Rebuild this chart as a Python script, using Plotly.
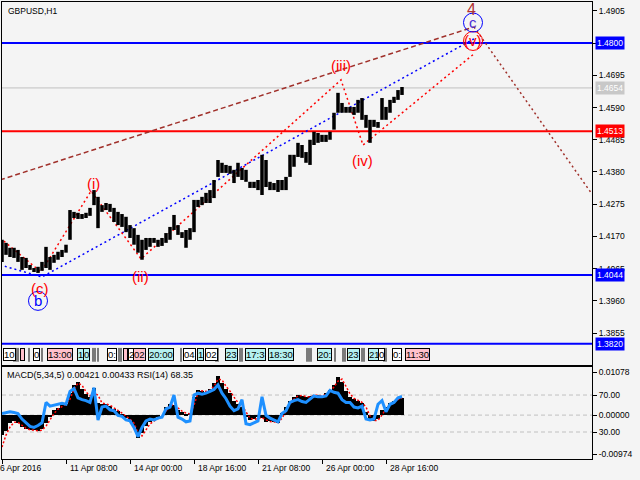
import plotly.graph_objects as go

# --- precio GBPUSD H1 (cada 4 velas: máximo / mínimo) ---
BAR_STEP = 4
HIGH = [
    1.4159, 1.4149, 1.4133, 1.4133, 1.4126, 1.4103, 1.4100, 1.4077, 1.4067, 1.4071,
    1.4087, 1.4136, 1.4103, 1.4110, 1.4120, 1.4126, 1.4143, 1.4256, 1.4250, 1.4247,
    1.4243, 1.4247, 1.4263, 1.4321, 1.4299, 1.4272, 1.4279, 1.4276, 1.4263, 1.4250,
    1.4243, 1.4234, 1.4207, 1.4197, 1.4175, 1.4159, 1.4165, 1.4165, 1.4165, 1.4159,
    1.4165, 1.4181, 1.4201, 1.4240, 1.4207, 1.4184, 1.4191, 1.4197, 1.4289, 1.4289,
    1.4299, 1.4312, 1.4321, 1.4354, 1.4419, 1.4410, 1.4403, 1.4400, 1.4387, 1.4410,
    1.4393, 1.4387, 1.4348, 1.4348, 1.4354, 1.4436, 1.4419, 1.4348, 1.4344, 1.4354,
    1.4354, 1.4364, 1.4436, 1.4436, 1.4475, 1.4468, 1.4445, 1.4485, 1.4511, 1.4507,
    1.4501, 1.4501, 1.4511, 1.4573, 1.4638, 1.4605, 1.4592, 1.4592, 1.4592, 1.4615,
    1.4621, 1.4566, 1.4550, 1.4550, 1.4543, 1.4621, 1.4592, 1.4615, 1.4625, 1.4647,
    1.4657,
]
LOW = [
    1.4087, 1.4110, 1.4103, 1.4100, 1.4087, 1.4061, 1.4067, 1.4061, 1.4054, 1.4051,
    1.4058, 1.4067, 1.4061, 1.4084, 1.4094, 1.4103, 1.4117, 1.4159, 1.4230, 1.4227,
    1.4227, 1.4230, 1.4237, 1.4272, 1.4197, 1.4250, 1.4256, 1.4250, 1.4217, 1.4207,
    1.4201, 1.4184, 1.4165, 1.4143, 1.4117, 1.4094, 1.4126, 1.4136, 1.4149, 1.4136,
    1.4139, 1.4149, 1.4159, 1.4191, 1.4175, 1.4165, 1.4133, 1.4159, 1.4184, 1.4266,
    1.4272, 1.4279, 1.4279, 1.4295, 1.4364, 1.4377, 1.4377, 1.4374, 1.4344, 1.4364,
    1.4354, 1.4348, 1.4328, 1.4328, 1.4321, 1.4305, 1.4331, 1.4321, 1.4321, 1.4315,
    1.4321, 1.4321, 1.4364, 1.4397, 1.4429, 1.4426, 1.4410, 1.4403, 1.4468, 1.4475,
    1.4478, 1.4478, 1.4485, 1.4518, 1.4573, 1.4573, 1.4573, 1.4573, 1.4566, 1.4573,
    1.4550, 1.4524, 1.4475, 1.4527, 1.4524, 1.4550, 1.4550, 1.4573, 1.4605, 1.4615,
    1.4631,
]

# --- indicadores ---
MACD = [
    -0.0050, -0.0040, -0.0020, -0.0015, -0.0020, -0.0030, -0.0035, -0.0038, -0.0038, -0.0040,
    -0.0036, -0.0020, -0.0005, 0.0012, 0.0018, 0.0025, 0.0028, 0.0055, 0.0075, 0.0083,
    0.0065, 0.0052, 0.0045, 0.0068, 0.0030, 0.0027, 0.0028, 0.0022, 0.0015, 0.0010,
    0.0002, -0.0008, -0.0012, -0.0030, -0.0058, -0.0045, -0.0028, -0.0018, -0.0012, -0.0006,
    0.0000, 0.0020, 0.0027, 0.0025, 0.0012, 0.0008, 0.0002, 0.0005, 0.0045, 0.0062,
    0.0060, 0.0058, 0.0065, 0.0080, 0.0097, 0.0080, 0.0065, 0.0055, 0.0035, 0.0028,
    0.0020, -0.0005, -0.0012, -0.0010, -0.0005, -0.0008, -0.0017, -0.0015, -0.0018, -0.0020,
    0.0005, 0.0020, 0.0035, 0.0045, 0.0050, 0.0048, 0.0045, 0.0048, 0.0050, 0.0049,
    0.0047, 0.0055, 0.0064, 0.0075, 0.0096, 0.0082, 0.0060, 0.0045, 0.0040, 0.0035,
    0.0030, 0.0008, -0.0012, -0.0015, -0.0010, 0.0012, 0.0020, 0.0030, 0.0035, 0.0042,
    0.0042,
]
SIGNAL = [
    -0.0080, -0.0050, -0.0030, -0.0018, -0.0018, -0.0026, -0.0033, -0.0037, -0.0038, -0.0039,
    -0.0038, -0.0028, -0.0012, 0.0004, 0.0015, 0.0022, 0.0027, 0.0040, 0.0065, 0.0080,
    0.0075, 0.0058, 0.0048, 0.0055, 0.0050, 0.0030, 0.0028, 0.0025, 0.0018, 0.0012,
    0.0005, -0.0003, -0.0010, -0.0020, -0.0045, -0.0052, -0.0036, -0.0022, -0.0015, -0.0009,
    -0.0003, 0.0010, 0.0024, 0.0026, 0.0018, 0.0010, 0.0005, 0.0003, 0.0025, 0.0055,
    0.0061, 0.0059, 0.0062, 0.0072, 0.0090, 0.0088, 0.0072, 0.0060, 0.0045, 0.0031,
    0.0024, 0.0008, -0.0008, -0.0011, -0.0008, -0.0006, -0.0012, -0.0016, -0.0017, -0.0019,
    -0.0008, 0.0012, 0.0028, 0.0040, 0.0048, 0.0049, 0.0046, 0.0046, 0.0049, 0.0050,
    0.0048, 0.0051, 0.0060, 0.0070, 0.0085, 0.0090, 0.0072, 0.0053, 0.0042, 0.0037,
    0.0032, 0.0020, -0.0002, -0.0014, -0.0013, 0.0000, 0.0016, 0.0025, 0.0033, 0.0039,
    0.0043,
]
RSI = [
    50, 51, 52, 51, 50, 44, 40, 36, 35, 37,
    40, 62, 58, 59, 60, 61, 60, 74, 77, 67,
    65, 64, 62, 78, 43, 57, 58, 54, 53, 48,
    47, 43, 42, 35, 25, 35, 42, 44, 43, 45,
    46, 55, 57, 70, 46, 44, 41, 42, 70, 72,
    71, 72, 74, 76, 81, 72, 66, 58, 53, 55,
    65, 39, 38, 40, 42, 68, 48, 45, 43, 41,
    50, 53, 62, 64, 65, 63, 62, 66, 69, 68,
    68, 69, 75, 73, 72, 65, 62, 62, 57, 56,
    58, 44, 43, 44, 60, 64, 52, 60, 62, 67,
    68.35,
]
BARS = [i * BAR_STEP for i in range(len(HIGH))]

# --- eje de precios y niveles horizontales ---
PRICE_TICKS = [1.4905, 1.4800, 1.4695, 1.4590, 1.4485, 1.4380,
               1.4275, 1.4170, 1.4065, 1.3960, 1.3855]
LEVELS = [1.4800, 1.4654, 1.4513, 1.4044, 1.3820]
LEVEL_COLORS = ["#0000ff", "#c0c0c0", "#ff0000", "#0000ff", "#0000ff"]
LEVEL_WIDTHS = [2, 1, 2, 2, 2]

# --- conteo de ondas (índice de barra, precio) ---
MINOR_X = [-2, 39, 89, 139, 339, 361, 472]
MINOR_Y = [1.4165, 1.4054, 1.4318, 1.4097, 1.4680, 1.4468, 1.4765]
BC_X = [-2, 40, 472]
BC_Y = [1.4077, 1.4038, 1.4814]
W4_X = [-2, 472]
W4_Y = [1.4354, 1.4853]
W5_X = [472, 590]
W5_Y = [1.4853, 1.4308]

LABEL_TEXT = ["(i)", "(ii)", "(iii)", "(iv)", "(v)", "(c)", "c", "b", "4"]
LABEL_X = [91, 138, 339, 360, 471, 38, 471, 36, 469]
LABEL_Y = [1.4341, 1.4038, 1.4726, 1.4419, 1.4807, 1.4001, 1.4867, 1.3960, 1.4911]
LABEL_COLORS = ["#ff0000"] * 6 + ["#4b2fd6", "#0000ff", "#b03030"]
CIRCLE_X = [471, 471, 36]
CIRCLE_Y = [1.4807, 1.4867, 1.3960]
CIRCLE_COLORS = ["#ff0000", "#0000ff", "#0000ff"]

# --- eje de tiempo ---
XTICK_BARS = [0, 64, 128, 192, 256, 320, 384]
XTICK_TEXT = ["6 Apr 2016", "11 Apr 08:00", "14 Apr 00:00", "18 Apr 16:00",
              "21 Apr 08:00", "26 Apr 00:00", "28 Apr 16:00"]

# --- etiquetas de sesión (franja inferior) ---
TAG_BARS = [1, 18, 31, 45, 75, 81, 105, 121, 126, 131, 146, 181, 195, 203,
            223, 243, 266, 315, 345, 366, 376, 390, 403]
TAG_TEXT = ["10", " ", "0", "13:00", "1", "0", "0:", " ", "2", "02", "20:00", "04",
            "1", "02", "23", "17:3", "18:30", "20:", "23", "21", "0", "0:", "11:30"]
TAG_FILL = ["w", "p", "w", "p", "c", "c", "w", "p", "w", "p", "c", "w",
            "c", "w", "c", "c", "c", "c", "c", "c", "w", "w", "p"]
SEP_BARS = [12, 14, 16, 27, 40, 91, 93, 96, 117, 119, 179, 214, 216, 238, 240,
            305, 307, 309, 333, 341, 343, 360, 362, 382, 384]

FILL = {"w": "#ffffff", "p": "#ffc0cb", "c": "#b4f0f0"}
FONT = "Liberation Sans"
BG = "#f4f4f4"

fig = go.Figure()

# velas como segmentos máximo-mínimo
seg_x, seg_y = [], []
for b, hi, lo in zip(BARS, HIGH, LOW):
    seg_x += [b, b, None]
    seg_y += [lo, hi, None]

fig.add_trace(go.Scatter(x=W4_X, y=W4_Y, mode="lines",
                         line=dict(color="#a0302a", width=1.5, dash="5px,3px")))
fig.add_trace(go.Scatter(x=W5_X, y=W5_Y, mode="lines",
                         line=dict(color="#a0302a", width=1.5, dash="2px,3px")))
fig.add_trace(go.Scatter(x=BC_X, y=BC_Y, mode="lines",
                         line=dict(color="#0000ff", width=1.5, dash="2px,3px")))
fig.add_trace(go.Scatter(x=MINOR_X, y=MINOR_Y, mode="lines",
                         line=dict(color="#ff0000", width=1.5, dash="2px,3px")))
fig.add_trace(go.Scatter(x=seg_x, y=seg_y, mode="lines",
                         line=dict(color="#000000", width=3.5)))

# panel inferior
fig.add_trace(go.Bar(x=BARS, y=MACD, width=BAR_STEP, marker=dict(color="#000000", line=dict(width=0)),
                     xaxis="x2", yaxis="y2"))
fig.add_trace(go.Scatter(x=BARS, y=SIGNAL, mode="lines", xaxis="x2", yaxis="y2",
                         line=dict(color="#ff0000", width=1.5, dash="2px,2px")))
fig.add_trace(go.Scatter(x=BARS, y=RSI, mode="lines", xaxis="x2", yaxis="y3",
                         line=dict(color="#1e90ff", width=3)))

shapes = []
for lvl, col, w in zip(LEVELS, LEVEL_COLORS, LEVEL_WIDTHS):
    shapes.append(dict(type="line", xref="x domain", yref="y", x0=0, x1=1, y0=lvl, y1=lvl,
                       line=dict(color=col, width=w), layer="below"))
for cx, cy, col in zip(CIRCLE_X, CIRCLE_Y, CIRCLE_COLORS):
    shapes.append(dict(type="circle", xref="x", yref="y", xsizemode="pixel", ysizemode="pixel",
                       xanchor=cx, yanchor=cy, x0=-9.5, x1=9.5, y0=-9.5, y1=9.5,
                       line=dict(color=col, width=1)))
for sb in SEP_BARS:
    shapes.append(dict(type="line", xref="x", yref="y domain", x0=sb, x1=sb, y0=0.009, y1=0.047,
                       line=dict(color="#000000", width=1)))
for yref, val in [("y3", 70), ("y2", 0), ("y3", 30)]:
    shapes.append(dict(type="line", xref="x2 domain", yref=yref, x0=0, x1=1, y0=val, y1=val,
                       line=dict(color="#c0c0c0", width=1, dash="4px,3px"), layer="below"))

ann = []
ann.append(dict(text="GBPUSD,H1", xref="paper", yref="paper", x=0, y=1, xanchor="left",
                yanchor="top", xshift=4, yshift=-2, showarrow=False,
                font=dict(family=FONT, size=8.5, color="#000000")))
ann.append(dict(text="MACD(5,34,5) 0.00421 0.00433 RSI(14) 68.35", xref="x2 domain",
                yref="y2 domain", x=0, y=1, xanchor="left", yanchor="top", xshift=3, yshift=-1,
                showarrow=False, font=dict(family=FONT, size=9, color="#000000")))
for lvl, col in zip(LEVELS, LEVEL_COLORS):
    ann.append(dict(text=f"{lvl:.4f}", xref="paper", yref="y", x=1, y=lvl, xanchor="left",
                    yanchor="middle", xshift=3, showarrow=False, bgcolor=col if col != "#c0c0c0" else "#c8c8c8",
                    borderpad=1, font=dict(family=FONT, size=8.5, color="#ffffff")))
for t, lx, ly, col in zip(LABEL_TEXT, LABEL_X, LABEL_Y, LABEL_COLORS):
    ann.append(dict(text=t, x=lx, y=ly, xref="x", yref="y", showarrow=False,
                    font=dict(family=FONT, size=15 if t != "4" else 16, color=col)))
for xb, xt in zip(XTICK_BARS, XTICK_TEXT):
    ann.append(dict(text=xt, xref="x2", yref="paper", x=xb, y=0, xanchor="left", yanchor="top",
                    xshift=-4 if xb == 0 else 2, yshift=-2, showarrow=False,
                    font=dict(family=FONT, size=8.5, color="#000000")))
for tb, tt, tf in zip(TAG_BARS, TAG_TEXT, TAG_FILL):
    ann.append(dict(text=tt, xref="x", yref="y domain", x=tb, y=0.029, xanchor="left",
                    yanchor="middle", showarrow=False, bgcolor=FILL[tf], bordercolor="#000000",
                    borderwidth=1, borderpad=0, font=dict(family=FONT, size=9.5, color="#000000")))

# la etiqueta del nivel 1.4800 tapa la marca del eje, igual que en MT4
price_ticktext = ["" if v in LEVELS else f"{v:.4f}" for v in PRICE_TICKS]

axis_common = dict(showline=True, linecolor="#000000", linewidth=1, mirror=True,
                   showgrid=False, zeroline=False, fixedrange=True)

fig.update_layout(
    width=640, height=480,
    margin=dict(l=2, r=48, t=2, b=21),
    paper_bgcolor=BG, plot_bgcolor=BG,
    showlegend=False, bargap=0,
    font=dict(family=FONT, size=8.5, color="#000000"),
    xaxis=dict(domain=[0, 1], anchor="y", range=[0, 590], showticklabels=False, ticks="",
               **axis_common),
    yaxis=dict(domain=[0.2057, 1], anchor="x", side="right", range=[1.3751, 1.4934],
               tickvals=PRICE_TICKS, ticktext=price_ticktext,
               ticks="outside", ticklen=4, tickcolor="#000000",
               tickfont=dict(family=FONT, size=8.5), **axis_common),
    xaxis2=dict(domain=[0, 1], anchor="y2", range=[0, 590], tickvals=XTICK_BARS,
                showticklabels=False, ticks="outside", ticklen=4, tickcolor="#000000",
                **axis_common),
    yaxis2=dict(domain=[0, 0.2013], anchor="x2", side="right", range=[-0.01099, 0.01203],
                tickvals=[0.01078, 0.0, -0.00974], ticktext=["0.01078", "0.00000", "-0.00974"],
                ticks="outside", ticklen=4, tickcolor="#000000",
                tickfont=dict(family=FONT, size=8.5), **axis_common),
    yaxis3=dict(overlaying="y2", anchor="x2", side="right", range=[0.8, 100.3],
                tickvals=[70, 30], ticktext=["70.00", "30.00"], ticks="outside", ticklen=4,
                tickcolor="#000000", tickfont=dict(family=FONT, size=8.5),
                showgrid=False, zeroline=False, showline=False, fixedrange=True),
    shapes=shapes,
    annotations=ann,
)

# el <body> trae un margen de 8px por defecto; lo quitamos para que el gráfico calce
fig.write_html("out.html", config={"displayModeBar": False},
               post_script="document.body.style.margin='0';")
